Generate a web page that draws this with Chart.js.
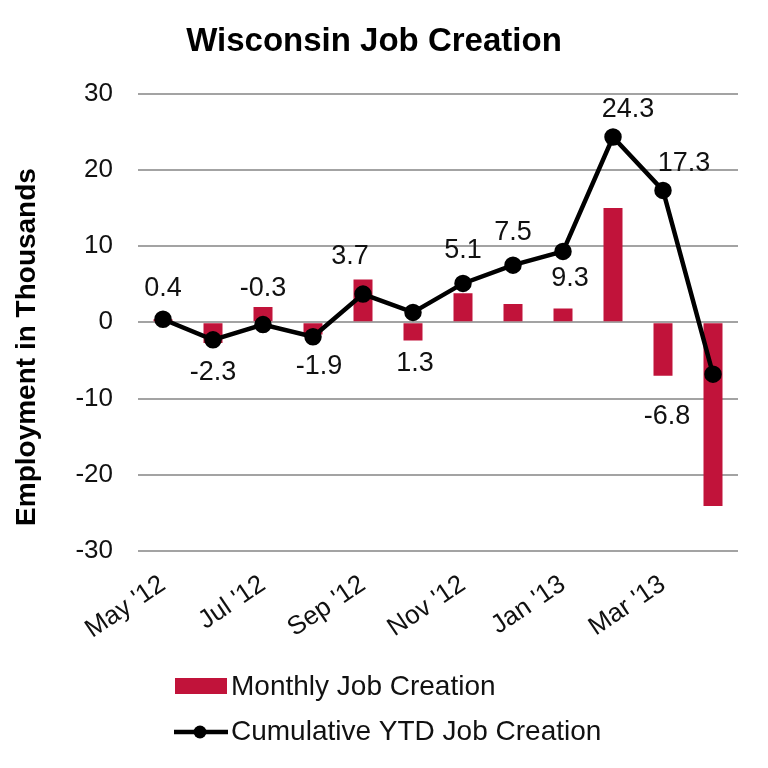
<!DOCTYPE html>
<html>
<head>
<meta charset="utf-8">
<title>Wisconsin Job Creation</title>
<script src="https://cdn.jsdelivr.net/npm/chart.js@4.4.0/dist/chart.umd.min.js"></script>
<style>
  html, body { margin: 0; padding: 0; background: #fff; }
  #wrap { width: 768px; height: 768px; }
</style>
</head>
<body>
<div id="wrap"><canvas id="chart" width="768" height="768"></canvas></div>
<script>
// data
var months = ["May '12", "Jun '12", "Jul '12", "Aug '12", "Sep '12", "Oct '12",
              "Nov '12", "Dec '12", "Jan '13", "Feb '13", "Mar '13", "Apr '13"];
var monthly = [0.4, -2.7, 2.0, -1.6, 5.6, -2.4, 3.8, 2.4, 1.8, 15.0, -7.0, -24.1];
var cumulative = [0.4, -2.3, -0.3, -1.9, 3.7, 1.3, 5.1, 7.5, 9.3, 24.3, 17.3, -6.8];
var yTicks = [-30, -20, -10, 0, 10, 20, 30];
var yTitle = 'Employment in Thousands';

// where each value label sits relative to its point (px)
var labelOffsets = [[0,-31],[0,33],[0,-36],[6,30],[-13,-38],[2,51],
                    [0,-33],[0,-33],[7,27],[15,-28],[21,-27],[-46,42]];

var FONT = "'Liberation Sans', Arial, Helvetica, sans-serif";
var barColor = '#C1133A';

var valueLabels = {
  id: 'valueLabels',
  afterDatasetsDraw: function(chart) {
    var ctx = chart.ctx;
    var meta = chart.getDatasetMeta(0);
    ctx.save();
    ctx.font = '27px ' + FONT;
    ctx.fillStyle = '#111';
    ctx.textAlign = 'center';
    ctx.textBaseline = 'middle';
    meta.data.forEach(function(pt, i) {
      var off = labelOffsets[i];
      ctx.fillText(cumulative[i].toFixed(1), pt.x + off[0], pt.y + off[1]);
    });
    ctx.restore();
  }
};

// axis title sits a bit below the plot centre in the original, so draw it by hand
var axisTitle = {
  id: 'axisTitle',
  afterDraw: function(chart) {
    var ctx = chart.ctx;
    ctx.save();
    ctx.translate(27, 347);
    ctx.rotate(-Math.PI / 2);
    ctx.font = 'bold 28px ' + FONT;
    ctx.fillStyle = '#000';
    ctx.textAlign = 'center';
    ctx.textBaseline = 'middle';
    ctx.fillText(yTitle, 0, 0);
    ctx.restore();
  }
};

var bottomLegend = {
  id: 'bottomLegend',
  afterDraw: function(chart) {
    var ctx = chart.ctx;
    var ds = chart.data.datasets;
    ctx.save();
    ctx.font = '28px ' + FONT;
    ctx.textAlign = 'left';
    ctx.textBaseline = 'middle';
    // bars
    ctx.fillStyle = ds[1].backgroundColor;
    ctx.fillRect(175, 678, 52, 16);
    ctx.fillStyle = '#111';
    ctx.fillText(ds[1].label, 231, 687);
    // line
    ctx.strokeStyle = ds[0].borderColor;
    ctx.lineWidth = 4.5;
    ctx.beginPath();
    ctx.moveTo(174, 732);
    ctx.lineTo(228, 732);
    ctx.stroke();
    ctx.beginPath();
    ctx.arc(200, 732, 6.5, 0, Math.PI * 2);
    ctx.fillStyle = ds[0].pointBackgroundColor;
    ctx.fill();
    ctx.fillStyle = '#111';
    ctx.fillText(ds[0].label, 231, 732);
    ctx.restore();
  }
};

var ctx = document.getElementById('chart');
var chart = new Chart(ctx, {
  data: {
    labels: months,
    datasets: [
      {
        type: 'line',
        label: 'Cumulative YTD Job Creation',
        data: cumulative,
        borderColor: '#000',
        backgroundColor: '#000',
        pointBackgroundColor: '#000',
        pointBorderColor: '#000',
        borderWidth: 4.5,
        pointRadius: 6.5,
        tension: 0,
        order: 0
      },
      {
        type: 'bar',
        label: 'Monthly Job Creation',
        data: monthly,
        backgroundColor: barColor,
        categoryPercentage: 1,
        barPercentage: 0.38,
        order: 1
      }
    ]
  },
  options: {
    responsive: false,
    animation: false,
    layout: { padding: { left: 10, right: 30, top: 0, bottom: 117 } },
    plugins: {
      legend: { display: false },
      tooltip: { enabled: false },
      title: {
        display: true,
        text: 'Wisconsin Job Creation',
        color: '#000',
        font: { family: FONT, size: 33, weight: 'bold' },
        padding: { top: 22, bottom: 32 }
      }
    },
    scales: {
      x: {
        grid: { display: false },
        border: { display: false },
        ticks: {
          autoSkip: false,
          minRotation: 34,
          maxRotation: 34,
          padding: 10,
          color: '#111',
          font: { family: FONT, size: 26 },
          callback: function(val, i) { return i % 2 === 0 ? months[i] : ''; }
        },
        afterFit: function(scale) { scale.height = 100; }
      },
      y: {
        min: -30,
        max: 30,
        afterBuildTicks: function(scale) {
          scale.ticks = yTicks.map(function(v) { return { value: v }; });
        },
        grid: { color: '#a3a3a3', lineWidth: 2, drawTicks: false },
        border: { display: false },
        ticks: {
          padding: 25,
          color: '#111',
          font: { family: FONT, size: 26 }
        },
        afterFit: function(scale) { scale.width = 128; }
      }
    }
  },
  plugins: [valueLabels, axisTitle, bottomLegend]
});
</script>
</body>
</html>
